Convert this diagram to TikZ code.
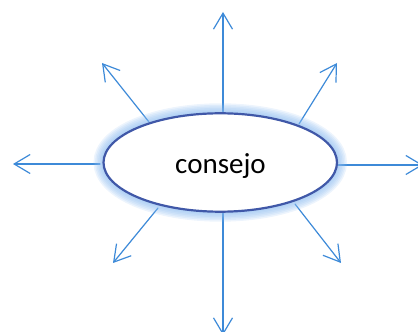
\documentclass[tikz,border=0pt]{standalone}
\usepackage{fontspec}
\setmainfont{Carlito}
\usetikzlibrary{arrows.meta,shapes.geometric}
\definecolor{arrowblue}{HTML}{3D8AD8}
\definecolor{rimblue}{HTML}{4058A8}
\definecolor{glowblue}{HTML}{8DBCF0}
\tikzset{
  ray/.style={draw=arrowblue, line width=1.2pt, line cap=round,
    -{Straight Barb[length=16pt,width=19pt,line width=1.2pt]}},
  hub/.style={ellipse, minimum width=233.5pt, minimum height=98.4pt, inner sep=0pt},
}
\begin{document}
\begin{tikzpicture}[x=1pt,y=1pt]
\useasboundingbox (0,0) rectangle (418,332);
% start points and tips
\coordinate (sT) at (223,219);  \coordinate (tT) at (223,320);
\coordinate (sB) at (223,120);  \coordinate (tB) at (223,-3);
\coordinate (sL) at (100,168);  \coordinate (tL) at (13,168);
\coordinate (sR) at (338,167);  \coordinate (tR) at (423,167);
\coordinate (sUL) at (149,210); \coordinate (tUL) at (102,269);
\coordinate (sUR) at (299,208); \coordinate (tUR) at (337,269);
\coordinate (sLL) at (158,124); \coordinate (tLL) at (113,69);
\coordinate (sLR) at (295,128); \coordinate (tLR) at (341,69);
\foreach \d in {T,B,L,R,UL,UR,LL,LR}{\draw[ray] (s\d) -- (t\d);}
% glow
\foreach \w in {20,17,14,11,8,5}{
  \draw[glowblue, line width=\w pt, opacity=0.16] (220.25,169.5) ellipse [x radius=116.75, y radius=49.2];
}
\node[hub, fill=white, draw=rimblue, line width=2.2pt] (hubnode) at (220.25,169.5) {};
\node[anchor=base, inner sep=0pt, font=\fontsize{29}{30}\selectfont] (label) at (220.5,158.7) {consejo};
\end{tikzpicture}
\end{document}
